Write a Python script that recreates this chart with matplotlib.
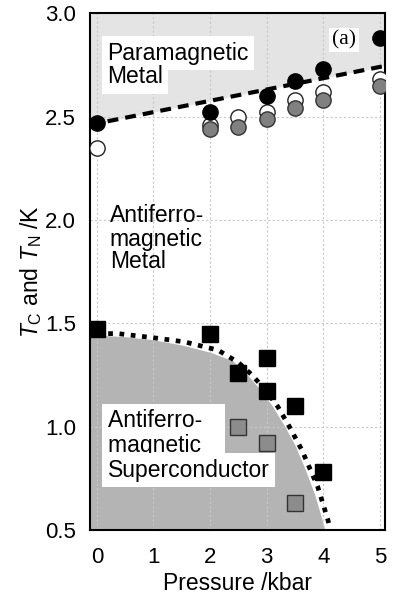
import numpy as np
import matplotlib.pyplot as plt

plt.rcParams['font.family'] = ['Liberation Sans', 'DejaVu Sans']
plt.rcParams['mathtext.fontset'] = 'custom'
plt.rcParams['mathtext.it'] = 'Liberation Sans:italic'
plt.rcParams['mathtext.rm'] = 'Liberation Sans'

# filled black circles
p_black_c = [0, 2, 3, 3.5, 4, 5]
t_black_c = [2.47, 2.52, 2.60, 2.67, 2.73, 2.88]
# open circles
p_open_c = [0, 2, 2.5, 3, 3.5, 4, 5]
t_open_c = [2.35, 2.46, 2.50, 2.52, 2.58, 2.62, 2.68]
# gray circles
p_gray_c = [2, 2.5, 3, 3.5, 4, 5]
t_gray_c = [2.44, 2.45, 2.49, 2.54, 2.58, 2.65]
# black squares
p_black_s = [0, 2, 2.5, 3, 3, 3.5, 4]
t_black_s = [1.47, 1.45, 1.26, 1.33, 1.17, 1.10, 0.78]
# gray squares
p_gray_s = [2.5, 3, 3.5]
t_gray_s = [1.00, 0.92, 0.63]

# dashed guide (paramagnetic boundary)
p_dash = [-0.12, 5.09]
t_dash = [2.46, 2.745]

# dotted guide (superconducting boundary)
p_dot = [0, 0.37, 1.0, 1.55, 2.14, 2.5, 2.74, 3.0, 3.2, 3.4, 3.62, 3.9, 4.08, 4.12]
t_dot = [1.45, 1.45, 1.43, 1.41, 1.37, 1.31, 1.25, 1.17, 1.095, 1.0, 0.887, 0.71, 0.55, 0.5]

# gray superconducting region edge
p_fill = [-0.12, 0, 0.5, 1.0, 1.5, 2.0, 2.39, 2.6, 2.85, 3.1, 3.32, 3.5, 3.67, 3.85, 4.03]
t_fill = [1.443, 1.443, 1.435, 1.42, 1.395, 1.36, 1.32, 1.27, 1.19, 1.10, 1.0, 0.91, 0.80, 0.67, 0.5]

fig = plt.figure(figsize=(3.94, 5.98), dpi=100)
ax = fig.add_axes([0.228, 0.1137, 0.749, 0.8643])

ax.set_xlim(-0.124, 5.088)
ax.set_ylim(0.5, 3.0)

# shaded regions
ax.fill_between(p_dash, t_dash, 3.0, color='#e4e4e4', lw=0, zorder=0)
ax.fill_between(p_fill, 0.5, t_fill, color='#b4b4b4', lw=0, zorder=0)

ax.set_xticks([0, 1, 2, 3, 4, 5])
ax.set_yticks([0.5, 1.0, 1.5, 2.0, 2.5, 3.0])
ax.set_yticklabels(['0.5', '1.0', '1.5', '2.0', '2.5', '3.0'])
ax.grid(True, color='#c8c8c8', ls=(0, (2, 2)), lw=0.8, zorder=0.5)
ax.tick_params(length=0, labelsize=16, pad=10)
ax.tick_params(axis='x', pad=12)
for s in ax.spines.values():
    s.set_linewidth(1.5)

ax.plot(p_dash, t_dash, color='black', lw=3, dashes=(2.6, 1.7), zorder=2)
ax.plot(p_dot, t_dot, color='black', lw=3.4, dashes=(1.0, 1.4), zorder=2)

ax.plot(p_open_c, t_open_c, 'o', ms=11, mfc='white', mec='#222222', mew=1, zorder=3)
ax.plot(p_gray_c, t_gray_c, 'o', ms=11, mfc='#808080', mec='#333333', mew=1, zorder=4)
ax.plot(p_black_c, t_black_c, 'o', ms=11, mfc='black', mec='black', zorder=4)
ax.plot(p_black_s, t_black_s, 's', ms=12, mfc='black', mec='black', zorder=4)
ax.plot(p_gray_s, t_gray_s, 's', ms=11, mfc='#8c8c8c', mec='#333333', mew=1, zorder=4)


def label(x, y, s, box=None, ls=1.09):
    ax.text(x, y, s, fontsize=16.5, va='baseline', ha='left', bbox=box,
            linespacing=ls, zorder=5)


# white boxes that step in width, like the original
white = dict(facecolor='white', edgecolor='none', pad=4)
label(0.18, 2.775, 'Paramagnetic', white)
label(0.18, 2.66, 'Metal', white)

label(0.23, 1.99, 'Antiferro-')
label(0.23, 1.875, 'magnetic')
label(0.23, 1.765, 'Metal')

label(0.19, 0.878, 'Antiferro-  \nmagnetic   ', dict(facecolor='white', edgecolor='none', pad=4))
label(0.19, 0.757, 'Superconductor', white)

ax.text(4.36, 2.87, '(a)', fontsize=15.5, family='Liberation Serif', ha='center', va='center',
        bbox=dict(facecolor='white', edgecolor='none', pad=2), zorder=5)

ax.set_xlabel('Pressure /kbar', fontsize=16.5, labelpad=3)
ax.set_ylabel('$T_\\mathrm{C}$ and $T_\\mathrm{N}$ /K', fontsize=16.5, labelpad=1)

fig.savefig('out.png', dpi=100)
